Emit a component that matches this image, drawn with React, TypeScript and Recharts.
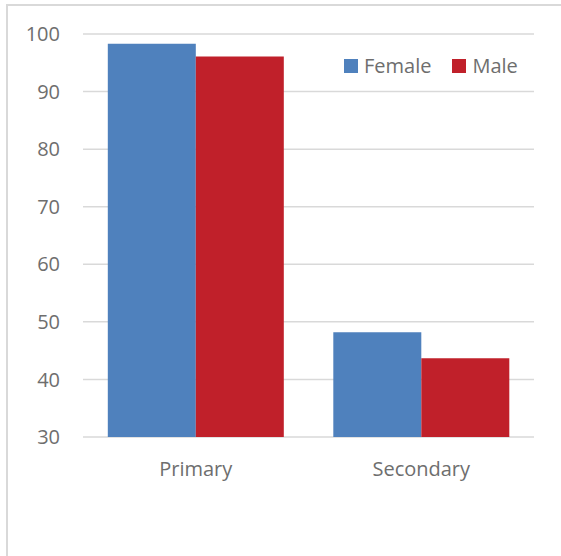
import React from 'react';
import { BarChart, Bar, XAxis, YAxis, CartesianGrid } from 'recharts';

// Enrolment (%) by level of education and gender
const levels = ['Primary', 'Secondary'];
const femaleValues = [98.3, 48.2];
const maleValues = [96.1, 43.7];
const yTicks = [30, 40, 50, 60, 70, 80, 90, 100];

const seriesNames = { female: 'Female', male: 'Male' };
const colors = { female: '#4F81BD', male: '#C0202A' };

const data = levels.map((level, i) => ({
  level,
  female: femaleValues[i],
  male: maleValues[i],
}));

const FONT = '"Open Sans", sans-serif';
const TEXT = '#6e6e6e';

const ChartLegend = () => (
  <div
    style={{
      position: 'absolute',
      left: 344,
      top: 54,
      display: 'flex',
      alignItems: 'center',
      fontFamily: FONT,
      fontSize: 20,
      color: TEXT,
      lineHeight: '24px',
    }}
  >
    {(['female', 'male'] as const).map((key, i) => (
      <div key={key} style={{ display: 'flex', alignItems: 'center', marginLeft: i === 0 ? 0 : 21 }}>
        <span style={{ display: 'inline-block', width: 14, height: 14, background: colors[key], marginRight: 6 }} />
        <span>{seriesNames[key]}</span>
      </div>
    ))}
  </div>
);

export default function App() {
  return (
    <div style={{ position: 'absolute', left: 0, top: 0, width: 561, height: 556, background: '#fff', overflow: 'hidden' }}>
      <div
        style={{
          position: 'absolute',
          left: 6,
          top: 4,
          right: 0,
          bottom: 0,
          borderLeft: '2px solid #d9d9d9',
          borderTop: '2px solid #d9d9d9',
        }}
      />
      <div style={{ position: 'absolute', left: 0, top: 0 }}>
        <BarChart
          width={561}
          height={556}
          data={data}
          margin={{ top: 34, right: 27, bottom: 89, left: 0 }}
          barCategoryGap="11%"
          barGap={0}
        >
          <CartesianGrid vertical={false} stroke="#d9d9d9" strokeWidth={1.5} />
          <XAxis
            dataKey="level"
            height={30}
            axisLine={false}
            tickLine={false}
            tickSize={0}
            tickMargin={25}
            tick={{ fontFamily: FONT, fontSize: 20, fill: TEXT }}
            interval={0}
          />
          <YAxis
            width={83}
            domain={[30, 100]}
            ticks={yTicks}
            allowDataOverflow
            axisLine={false}
            tickLine={false}
            tickSize={0}
            tickMargin={23}
            tick={{ fontFamily: FONT, fontSize: 20, fill: TEXT }}
          />
          <Bar dataKey="female" name={seriesNames.female} fill={colors.female} isAnimationActive={false} />
          <Bar dataKey="male" name={seriesNames.male} fill={colors.male} isAnimationActive={false} />
        </BarChart>
      </div>
      <ChartLegend />
    </div>
  );
}
